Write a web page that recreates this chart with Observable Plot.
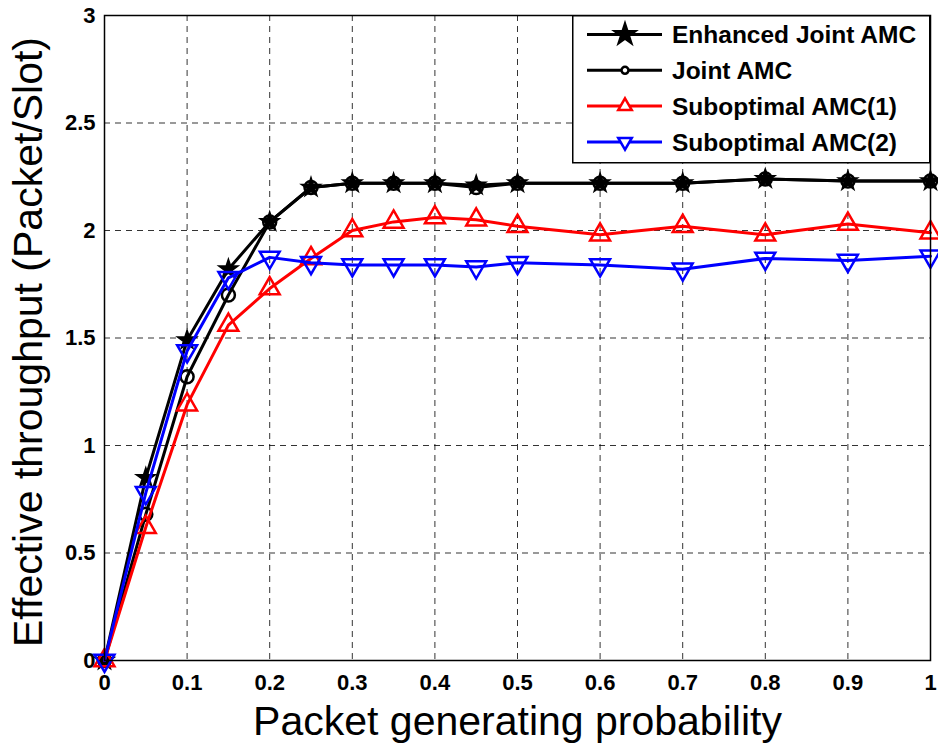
<!DOCTYPE html>
<html><head><meta charset="utf-8">
<script src="https://cdn.jsdelivr.net/npm/d3@7"></script>
<script src="https://cdn.jsdelivr.net/npm/@observablehq/plot@0.6"></script>
<style>
body{margin:0;background:#fff;}
#wrap{position:relative;width:938px;height:749px;overflow:hidden;}
#legend{position:absolute;left:572px;top:15px;}
</style></head>
<body><div id="wrap"></div>
<script>
const xs = [0, 0.05, 0.1, 0.15, 0.2, 0.25, 0.3, 0.35, 0.4, 0.45, 0.5, 0.6, 0.7, 0.8, 0.9, 1.0];
const enhancedJoint = [0, 0.85, 1.49, 1.82, 2.04, 2.20, 2.22, 2.22, 2.22, 2.21, 2.22, 2.22, 2.22, 2.24, 2.23, 2.23];
const jointAMC     = [0, 0.68, 1.32, 1.70, 2.04, 2.20, 2.22, 2.22, 2.22, 2.20, 2.22, 2.22, 2.22, 2.24, 2.23, 2.23];
const subopt1      = [0, 0.62, 1.19, 1.56, 1.73, 1.87, 2.00, 2.04, 2.06, 2.05, 2.02, 1.98, 2.02, 1.98, 2.03, 1.99];
const subopt2      = [0, 0.78, 1.44, 1.78, 1.875, 1.85, 1.84, 1.84, 1.84, 1.83, 1.85, 1.84, 1.82, 1.87, 1.86, 1.88];
const seriesNames = ["Enhanced Joint AMC", "Joint AMC", "Suboptimal AMC(1)", "Suboptimal AMC(2)"];
const seriesColors = ["black", "black", "#ff0000", "#0000ff"];
const xTicks = [0, 0.1, 0.2, 0.3, 0.4, 0.5, 0.6, 0.7, 0.8, 0.9, 1];
const yTicks = [0, 0.5, 1, 1.5, 2, 2.5, 3];
const xLabel = "Packet generating probability";
const yLabel = "Effective throughput (Packet/Slot)";

const allValues = [enhancedJoint, jointAMC, subopt1, subopt2];
const rows = [];
allValues.forEach((vals, s) => vals.forEach((v, i) => rows.push({x: xs[i], y: v, s: seriesNames[s]})));
const bySeries = name => rows.filter(d => d.s === name);

const FF = "Liberation Sans, Arial, sans-serif";
const tickFont = {fontFamily: FF, fontWeight: "bold", fontSize: 22};
const svgPlot = Plot.plot({
  width: 938, height: 749,
  marginLeft: 104, marginRight: 8, marginTop: 15, marginBottom: 89,
  style: {fontFamily: FF, background: "white", overflow: "visible"},
  x: {domain: [0, 1]},
  y: {domain: [0, 3]},
  marks: [
    Plot.gridX(xTicks, {stroke: "black", strokeOpacity: 0.8, strokeDasharray: "6,5", strokeWidth: 1}),
    Plot.gridY(yTicks, {stroke: "black", strokeOpacity: 0.8, strokeDasharray: "6,5", strokeWidth: 1}),
    Plot.axisX(xTicks, {tickSize: 0, tickPadding: 14, ...tickFont, fill: "black", label: null, tickFormat: d => String(d)}),
    Plot.axisY(yTicks, {tickSize: 0, tickPadding: 9, ...tickFont, fill: "black", label: null, tickFormat: d => String(d)}),
    Plot.text([xLabel], {frameAnchor: "bottom", textAnchor: "middle", lineAnchor: "middle", dy: 61, fontSize: 41, fill: "black", fontFamily: FF}),
    Plot.text([yLabel], {frameAnchor: "left", textAnchor: "middle", lineAnchor: "middle", dx: -76, dy: 4, rotate: -90, fontSize: 41, fill: "black", fontFamily: FF}),
    // series
    Plot.line(bySeries(seriesNames[0]), {x: "x", y: "y", stroke: seriesColors[0], strokeWidth: 3}),
    Plot.dot(bySeries(seriesNames[0]), {x: "x", y: "y", symbol: "star", r: 6, fill: seriesColors[0], stroke: seriesColors[0], strokeWidth: 1.5}),
    Plot.line(bySeries(seriesNames[1]), {x: "x", y: "y", stroke: seriesColors[1], strokeWidth: 3}),
    Plot.dot(bySeries(seriesNames[1]), {x: "x", y: "y", symbol: "circle", r: 6.5, fill: "none", stroke: seriesColors[1], strokeWidth: 2.5}),
    Plot.line(bySeries(seriesNames[2]), {x: "x", y: "y", stroke: seriesColors[2], strokeWidth: 3}),
    Plot.dot(bySeries(seriesNames[2]), {x: "x", y: "y", symbol: "triangle2", r: 9.5, fill: "none", stroke: seriesColors[2], strokeWidth: 2.5}),
    Plot.line(bySeries(seriesNames[3]), {x: "x", y: "y", stroke: seriesColors[3], strokeWidth: 3}),
    Plot.dot(bySeries(seriesNames[3]), {x: "x", y: "y", symbol: "triangle2", rotate: 180, r: 9.5, fill: "none", stroke: seriesColors[3], strokeWidth: 2.5}),
    Plot.frame({stroke: "black", strokeWidth: 1.5})
  ]
});
const wrap = document.getElementById("wrap");
wrap.appendChild(svgPlot);

// legend
const symbols = [d3.symbolStar, d3.symbolCircle, d3.symbolTriangle2, d3.symbolTriangle2];
const leg = d3.select(wrap).append("svg").attr("id", "legend").attr("width", 359).attr("height", 149);
leg.append("rect").attr("x", 0.75).attr("y", 0.75).attr("width", 357).attr("height", 147).attr("fill", "white").attr("stroke", "black").attr("stroke-width", 1.5);
seriesNames.forEach((name, i) => {
  const cy = 19.5 + i * 35.8;
  const g = leg.append("g");
  g.append("line").attr("x1", 15).attr("x2", 90).attr("y1", cy).attr("y2", cy).attr("stroke", seriesColors[i]).attr("stroke-width", 3);
  const sz = i === 0 ? Math.PI * 40 : i === 1 ? Math.PI * 12 : Math.PI * 42;
  g.append("path").attr("d", d3.symbol(symbols[i], sz)())
    .attr("transform", `translate(53,${cy})` + (i === 3 ? " rotate(180)" : ""))
    .attr("fill", i === 0 ? "black" : "white").attr("stroke", seriesColors[i]).attr("stroke-width", 2.5);
  g.append("text").attr("x", 100).attr("y", cy).attr("dy", "0.36em").text(name)
    .attr("font-family", FF).attr("font-weight", "bold").attr("font-size", 24.5).attr("fill", "black");
});
</script></body></html>
